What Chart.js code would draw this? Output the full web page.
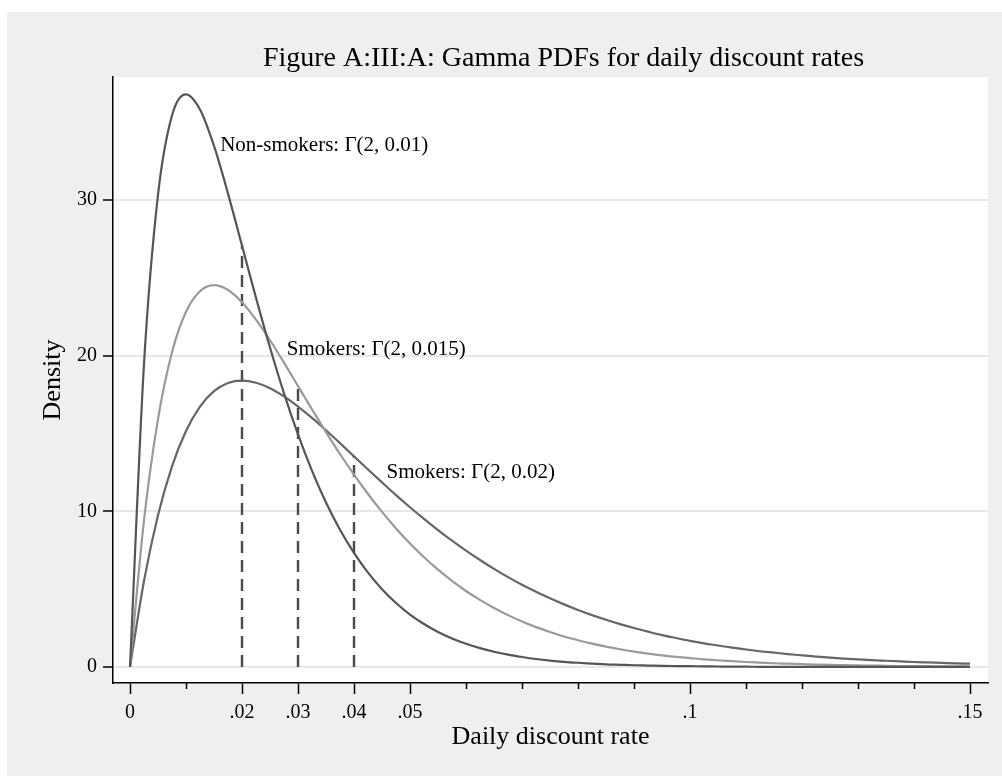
<!DOCTYPE html>
<html>
<head>
<meta charset="utf-8">
<script src="https://cdn.jsdelivr.net/npm/chart.js@4.4.1/dist/chart.umd.min.js"></script>
<style>
  html, body { margin: 0; padding: 0; background: #fff; }
  #wrap { width: 1002px; height: 776px; }
</style>
</head>
<body>
<div id="wrap"><canvas id="gamma-chart" width="1002" height="776"></canvas></div>
<script>
// Gamma(2, theta) densities for daily discount rates, sampled every .0025

const rates = [
  0, 0.0025, 0.005, 0.0075, 0.01, 0.0125, 0.015, 0.0175, 0.02, 0.0225,
  0.025, 0.0275, 0.03, 0.0325, 0.035, 0.0375, 0.04, 0.0425, 0.045, 0.0475,
  0.05, 0.0525, 0.055, 0.0575, 0.06, 0.0625, 0.065, 0.0675, 0.07, 0.0725,
  0.075, 0.0775, 0.08, 0.0825, 0.085, 0.0875, 0.09, 0.0925, 0.095, 0.0975,
  0.1, 0.1025, 0.105, 0.1075, 0.11, 0.1125, 0.115, 0.1175, 0.12, 0.1225,
  0.125, 0.1275, 0.13, 0.1325, 0.135, 0.1375, 0.14, 0.1425, 0.145, 0.1475, 0.15
];

// Non-smokers: Γ(2, 0.01)
const nonSmokers = [
  0, 19.47, 30.33, 35.43, 36.79, 35.81, 33.47, 30.41, 27.07, 23.71,
  20.52, 17.58, 14.94, 12.60, 10.57, 8.82, 7.33, 6.06, 5.00, 4.11,
  3.37, 2.76, 2.25, 1.83, 1.49, 1.21, 0.98, 0.79, 0.64, 0.51,
  0.41, 0.33, 0.27, 0.22, 0.17, 0.14, 0.11, 0.09, 0.07, 0.06,
  0.05, 0.04, 0.03, 0.02, 0.02, 0.01, 0.01, 0.01, 0.01, 0.01,
  0.01, 0, 0, 0, 0, 0, 0, 0, 0, 0, 0
];

// Smokers: Γ(2, 0.015)
const smokersLow = [
  0, 9.41, 15.92, 20.22, 22.82, 24.14, 24.53, 24.22, 23.43, 22.31,
  20.99, 19.55, 18.04, 16.55, 15.09, 13.68, 12.35, 11.11, 9.96, 8.90,
  7.93, 7.05, 6.25, 5.53, 4.88, 4.31, 3.79, 3.33, 2.92, 2.56,
  2.25, 1.96, 1.72, 1.50, 1.31, 1.14, 0.99, 0.86, 0.75, 0.65,
  0.57, 0.49, 0.43, 0.37, 0.32, 0.28, 0.24, 0.21, 0.18, 0.15,
  0.13, 0.12, 0.10, 0.09, 0.07, 0.06, 0.06, 0.05, 0.04, 0.04, 0.03
];

// Smokers: Γ(2, 0.02)
const smokersHigh = [
  0, 5.52, 9.74, 12.89, 15.16, 16.73, 17.72, 18.24, 18.39, 18.26,
  17.91, 17.38, 16.73, 16.00, 15.21, 14.38, 13.53, 12.69, 11.86, 11.04,
  10.26, 9.51, 8.79, 8.11, 7.47, 6.87, 6.30, 5.77, 5.28, 4.83,
  4.41, 4.02, 3.66, 3.33, 3.03, 2.75, 2.50, 2.27, 2.05, 1.86,
  1.68, 1.52, 1.38, 1.24, 1.12, 1.01, 0.92, 0.83, 0.74, 0.67,
  0.60, 0.54, 0.49, 0.44, 0.40, 0.36, 0.32, 0.29, 0.26, 0.23, 0.21
];

// means (2*theta) and the density each curve reaches there
const meanRates = [0.02, 0.03, 0.04];
const meanDensity = [27.07, 18.04, 13.53];

const curveNames = ["Non-smokers: Γ(2, 0.01)", "Smokers: Γ(2, 0.015)", "Smokers: Γ(2, 0.02)"];
const curveLabelX = [0.0161, 0.0280, 0.0458];
const curveLabelY = [33.5, 20.4, 12.5];

const xMajorTicks = [0, 0.02, 0.03, 0.04, 0.05, 0.1, 0.15];
const xTickLabels = ["0", ".02", ".03", ".04", ".05", ".1", ".15"];
const xMinorTicks = [0.01, 0.06, 0.07, 0.08, 0.09, 0.11, 0.12, 0.13, 0.14];
const yTicks = [0, 10, 20, 30];
const yTickLabels = ["0", "10", "20", "30"];

const TITLE = "Figure A:III:A: Gamma PDFs for daily discount rates";
const SERIF = "'Liberation Serif', 'Times New Roman', Times, serif";

function toPoints(ys) {
  return rates.map(function (x, i) { return { x: x, y: ys[i] }; });
}

function curve(ys, color) {
  return {
    data: toPoints(ys),
    borderColor: color,
    borderWidth: 2.2,
    pointRadius: 0,
    cubicInterpolationMode: "monotone",
    fill: false
  };
}

function meanLine(i) {
  return {
    data: [{ x: meanRates[i], y: 0 }, { x: meanRates[i], y: meanDensity[i] }],
    borderColor: "#4a4a4a",
    borderWidth: 2.4,
    borderDash: [12, 7],
    pointRadius: 0,
    fill: false
  };
}

// grey graph region + white plot region behind everything
const backdrop = {
  id: "backdrop",
  beforeDraw: function (chart) {
    const ctx = chart.ctx;
    const a = chart.chartArea;
    ctx.save();
    ctx.fillStyle = "#efefef";
    ctx.fillRect(7, 12, chart.width - 7, chart.height - 12);
    ctx.fillStyle = "#ffffff";
    ctx.fillRect(a.left, a.top, a.right - a.left, a.bottom - a.top);
    ctx.restore();
  }
};

// heading sits a little right of the plot centre, baseline 11px above the plot
const heading = {
  id: "heading",
  afterDraw: function (chart) {
    const a = chart.chartArea;
    const ctx = chart.ctx;
    ctx.save();
    ctx.font = "28px " + SERIF;
    ctx.fillStyle = "#000";
    ctx.textAlign = "center";
    ctx.textBaseline = "alphabetic";
    ctx.fillText(TITLE, (a.left + a.right) / 2 + 13, a.top - 11);
    ctx.restore();
  }
};

// short unlabelled ticks on the x axis
const minorTicks = {
  id: "minorTicks",
  afterDraw: function (chart) {
    const sx = chart.scales.x;
    const ctx = chart.ctx;
    ctx.save();
    ctx.strokeStyle = "#000";
    ctx.lineWidth = 1.5;
    xMinorTicks.forEach(function (v) {
      const px = Math.round(sx.getPixelForValue(v)) + 0.5;
      ctx.beginPath();
      ctx.moveTo(px, sx.top);
      ctx.lineTo(px, sx.top + 6);
      ctx.stroke();
    });
    ctx.restore();
  }
};

// curve captions placed in data coordinates
const curveLabels = {
  id: "curveLabels",
  afterDatasetsDraw: function (chart) {
    const sx = chart.scales.x, sy = chart.scales.y;
    const ctx = chart.ctx;
    ctx.save();
    ctx.font = "21px " + SERIF;
    ctx.fillStyle = "#000";
    ctx.textAlign = "left";
    ctx.textBaseline = "middle";
    curveNames.forEach(function (name, i) {
      ctx.fillText(name, sx.getPixelForValue(curveLabelX[i]), sy.getPixelForValue(curveLabelY[i]));
    });
    ctx.restore();
  }
};

new Chart(document.getElementById("gamma-chart"), {
  type: "line",
  data: {
    datasets: [
      curve(nonSmokers, "#555555"),
      curve(smokersLow, "#9a9a9a"),
      curve(smokersHigh, "#666666"),
      meanLine(0), meanLine(1), meanLine(2)
    ]
  },
  plugins: [backdrop, heading, minorTicks, curveLabels],
  options: {
    responsive: false,
    animation: false,
    devicePixelRatio: 1,
    layout: { padding: { top: 77, left: 7, right: 14, bottom: 0 } },
    plugins: {
      legend: { display: false },
      tooltip: { enabled: false },
      title: { display: false }
    },
    scales: {
      x: {
        type: "linear",
        min: -0.003036,
        max: 0.15321,
        afterBuildTicks: function (scale) {
          scale.ticks = xMajorTicks.map(function (v) { return { value: v }; });
        },
        afterFit: function (scale) { scale.height = 93; },
        grid: { drawOnChartArea: false, tickLength: 11, tickColor: "#000", tickWidth: 1.5 },
        border: { color: "#000", width: 1.5 },
        ticks: {
          color: "#000",
          padding: 7,
          maxRotation: 0,
          autoSkip: false,
          font: { family: SERIF, size: 20 },
          callback: function (v, i) { return xTickLabels[i]; }
        },
        title: {
          display: true,
          text: "Daily discount rate",
          color: "#000",
          font: { family: SERIF, size: 26, lineHeight: 1.2 },
          padding: { top: 0, bottom: 23 }
        }
      },
      y: {
        type: "linear",
        min: -1.03,
        max: 37.9,
        afterBuildTicks: function (scale) {
          scale.ticks = yTicks.map(function (v) { return { value: v }; });
        },
        afterFit: function (scale) { scale.width = 106; },
        grid: { color: "#e8e8e8", lineWidth: 2, tickLength: 10, tickColor: "#000", tickWidth: 1.5 },
        border: { color: "#000", width: 1.5 },
        ticks: {
          color: "#000",
          padding: 6,
          font: { family: SERIF, size: 20 },
          callback: function (v, i) { return yTickLabels[i]; }
        },
        title: {
          display: true,
          text: "Density",
          color: "#000",
          font: { family: SERIF, size: 26, lineHeight: 1.2 },
          padding: { top: 30.6, bottom: 0 }
        }
      }
    }
  }
});
</script>
</body>
</html>
